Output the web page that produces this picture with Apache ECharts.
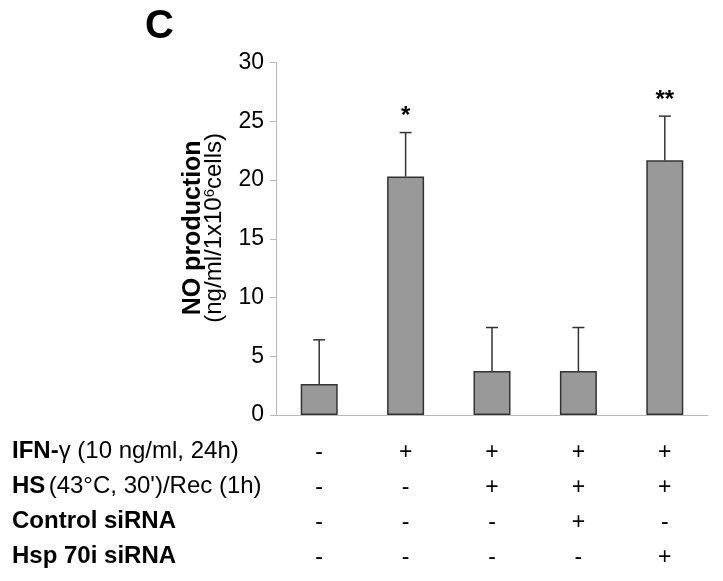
<!DOCTYPE html>
<html>
<head>
<meta charset="utf-8">
<script src="https://cdn.jsdelivr.net/npm/echarts@6/dist/echarts.min.js"></script>
<style>
html,body{margin:0;padding:0;background:#fff;}
#chart{width:723px;height:581px;}
</style>
</head>
<body>
<div id="chart"></div>
<script>
// ---- data ----
var rowIFN  = ['-', '+', '+', '+', '+'];
var rowHS   = ['-', '-', '+', '+', '+'];
var rowCtrl = ['-', '-', '-', '+', '-'];
var rowHsp  = ['-', '-', '-', '-', '+'];
var noValues = [2.65, 20.3, 3.75, 3.75, 21.7];
var errTop   = [6.4, 24.05, 7.45, 7.45, 25.45];
var signif   = ['', '*', '', '', '**'];
var yTicks   = [0, 5, 10, 15, 20, 25, 30];

var categories = rowIFN.map(function (v, i) {
  return [rowIFN[i], rowHS[i], rowCtrl[i], rowHsp[i]].join('\n');
});

var FONT = '"Liberation Sans", Arial, sans-serif';
var chart = echarts.init(document.getElementById('chart'), null, {renderer: 'canvas'});

var rowLabels = [
  '{b|IFN-}{n|γ (10 ng/ml, 24h)}',
  '{b|HS} {n|(43°C, 30\')/Rec (1h)}',
  '{b|Control siRNA}',
  '{b|Hsp 70i siRNA}'
];
var rowY = [452, 487, 522, 557];

var option = {
  backgroundColor: '#fff',
  animation: false,
  title: {
    text: 'C', left: 140, top: 2,
    textStyle: {fontFamily: FONT, fontSize: 40, fontWeight: 'bold', color: '#000'}
  },
  grid: {left: 276, right: 15, top: 62.7, bottom: 166, containLabel: false},
  xAxis: {
    type: 'category',
    data: categories,
    boundaryGap: true,
    axisLine: {lineStyle: {color: '#b8b8b8', width: 1}},
    axisTick: {length: 12, lineStyle: {color: '#b8b8b8'}},
    axisLabel: {
      fontFamily: FONT, fontSize: 23, color: '#000',
      lineHeight: 35, margin: 20, interval: 0
    }
  },
  yAxis: {
    type: 'value',
    min: yTicks[0], max: yTicks[yTicks.length - 1], interval: 5,
    axisLine: {show: true, lineStyle: {color: '#b8b8b8', width: 1}},
    axisTick: {show: true, length: 6, lineStyle: {color: '#b8b8b8'}},
    splitLine: {show: false},
    axisLabel: {fontFamily: FONT, fontSize: 23, color: '#000', margin: 12},
    name: '{b|NO production}\n{n|(ng/ml/1x10}{s|6}{n|cells)}',
    nameLocation: 'middle',
    nameRotate: 90,
    nameGap: 51,
    nameTextStyle: {
      fontFamily: FONT, color: '#000', padding: [0, 0, 0, 22],
      rich: {
        b: {fontFamily: FONT, fontSize: 25, fontWeight: 'bold', lineHeight: 21, color: '#000'},
        n: {fontFamily: FONT, fontSize: 24, lineHeight: 21, color: '#000'},
        s: {fontFamily: FONT, fontSize: 15, lineHeight: 21, color: '#000', padding: [0, 0, 10, 0]}
      }
    }
  },
  graphic: rowLabels.map(function (t, i) {
    return {
      type: 'text', left: 12, top: rowY[i] - 13,
      style: {
        text: t, fill: '#000',
        rich: {
          b: {fontFamily: FONT, fontSize: 24, fontWeight: 'bold', fill: '#000'},
          n: {fontFamily: FONT, fontSize: 24, fill: '#000'}
        }
      }
    };
  }),
  series: [
    {
      type: 'bar',
      data: noValues,
      barWidth: 37,
      itemStyle: {color: '#999999', borderColor: '#333', borderWidth: 1.5},
      z: 2
    },
    {
      type: 'custom',
      data: errTop.map(function (e, i) { return [i, noValues[i], e]; }),
      z: 3,
      renderItem: function (params, api) {
        var i = api.value(0);
        var base = api.coord([i, api.value(1)]);
        var top = api.coord([i, api.value(2)]);
        var cx = base[0];
        var children = [
          {type: 'line', shape: {x1: cx, y1: base[1], x2: cx, y2: top[1]},
           style: {stroke: '#333', lineWidth: 1.5}},
          {type: 'line', shape: {x1: cx - 6, y1: top[1], x2: cx + 6, y2: top[1]},
           style: {stroke: '#333', lineWidth: 1.5}}
        ];
        var s = signif[params.dataIndex];
        if (s) {
          children.push({
            type: 'text',
            style: {
              text: s, x: cx, y: top[1] - 4,
              align: 'center', verticalAlign: 'bottom',
              fontFamily: FONT, fontSize: 24, fontWeight: 'bold', fill: '#000'
            }
          });
        }
        return {type: 'group', children: children};
      }
    }
  ]
};
chart.setOption(option);
</script>
</body>
</html>
